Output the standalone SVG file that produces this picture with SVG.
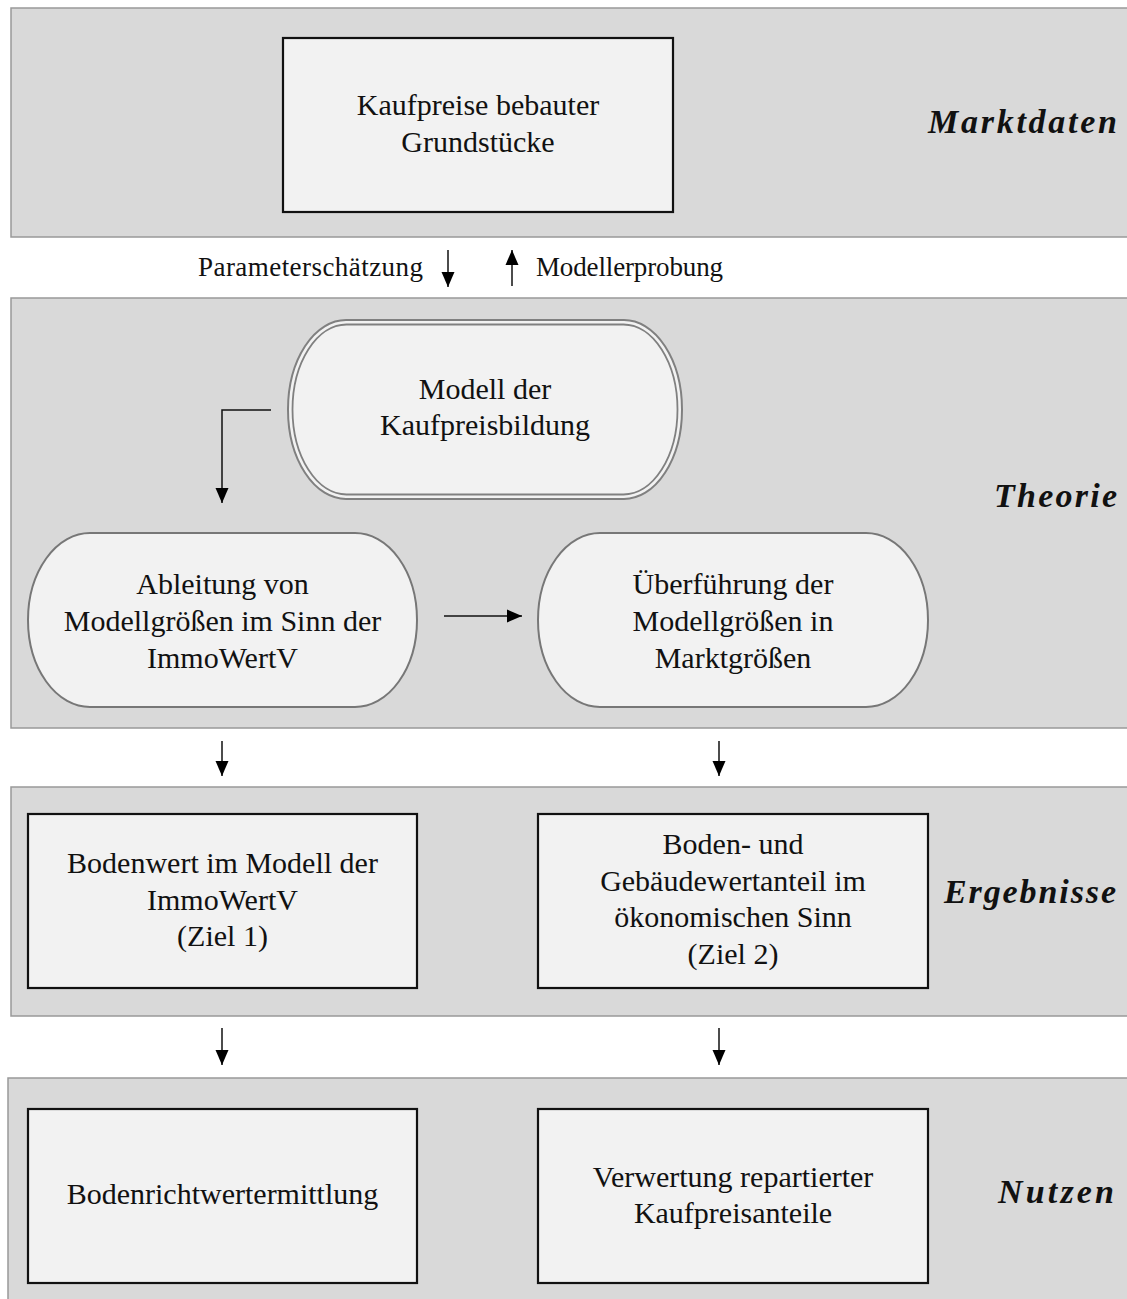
<svg xmlns="http://www.w3.org/2000/svg" width="1127" height="1299" viewBox="0 0 1127 1299">
<style>
.band{fill:#d9d9d9;stroke:#999;stroke-width:1.5}
.box{fill:#f2f2f2;stroke:#111;stroke-width:2.2}
.node{fill:#f2f2f2;stroke:#777;stroke-width:2}
.t{font-family:"Liberation Serif","Times New Roman",serif;font-size:30px;fill:#111;text-anchor:middle}
.e{font-family:"Liberation Serif","Times New Roman",serif;font-size:27px;fill:#111}
.lab{font-family:"Liberation Serif","Times New Roman",serif;font-size:34px;font-weight:bold;font-style:italic;fill:#111;text-anchor:end}
.c{fill:none;stroke:#111;stroke-width:1.5}
</style>
<defs>
<marker id="ah" markerUnits="userSpaceOnUse" markerWidth="15" markerHeight="14" refX="15" refY="7" orient="auto" overflow="visible">
<path d="M0,0.5 L15,7 L0,13.5 z" fill="#000"/>
</marker>
</defs>
<g id="bands">
<rect class="band" x="11" y="8" width="1130" height="229"/>
<rect class="band" x="11" y="298" width="1130" height="430"/>
<rect class="band" x="11" y="787" width="1130" height="229"/>
<rect class="band" x="8" y="1078" width="1130" height="240"/>
</g>
<g id="labels">
<text class="lab" x="1117" y="133" textLength="189">Marktdaten</text>
<text class="lab" x="1117" y="507" textLength="123">Theorie</text>
<text class="lab" x="1116" y="903" textLength="172">Ergebnisse</text>
<text class="lab" x="1114" y="1203" textLength="116">Nutzen</text>
</g>
<g id="n_kaufpreise">
<rect class="box" x="283" y="38" width="390" height="174"/>
<text class="t" x="478" y="115">Kaufpreise bebauter</text>
<text class="t" x="478" y="152">Grundstücke</text>
</g>
<g id="n_modell">
<rect x="288" y="320" width="394" height="179" rx="58" ry="89.5" fill="#f2f2f2" stroke="#808080" stroke-width="2"/>
<rect x="292.5" y="324.5" width="385" height="170" rx="54" ry="85" fill="none" stroke="#808080" stroke-width="1.8"/>
<text class="t" x="485" y="399">Modell der</text>
<text class="t" x="485" y="435">Kaufpreisbildung</text>
</g>
<g id="n_ableitung">
<rect class="node" x="28" y="533" width="389" height="174" rx="62" ry="87"/>
<text class="t" x="222.5" y="594">Ableitung von</text>
<text class="t" x="222.5" y="631">Modellgrößen im Sinn der</text>
<text class="t" x="222.5" y="668">ImmoWertV</text>
</g>
<g id="n_ueberfuehrung">
<rect class="node" x="538" y="533" width="390" height="174" rx="62" ry="87"/>
<text class="t" x="733" y="594">Überführung der</text>
<text class="t" x="733" y="631">Modellgrößen in</text>
<text class="t" x="733" y="668">Marktgrößen</text>
</g>
<g id="n_bodenwert">
<rect class="box" x="28" y="814" width="389" height="174"/>
<text class="t" x="222.5" y="873">Bodenwert im Modell der</text>
<text class="t" x="222.5" y="910">ImmoWertV</text>
<text class="t" x="222.5" y="946">(Ziel 1)</text>
</g>
<g id="n_anteil">
<rect class="box" x="538" y="814" width="390" height="174"/>
<text class="t" x="733" y="854">Boden- und</text>
<text class="t" x="733" y="891">Gebäudewertanteil im</text>
<text class="t" x="733" y="927">ökonomischen Sinn</text>
<text class="t" x="733" y="964">(Ziel 2)</text>
</g>
<g id="n_bodenricht">
<rect class="box" x="28" y="1109" width="389" height="174"/>
<text class="t" x="222.5" y="1204">Bodenrichtwertermittlung</text>
</g>
<g id="n_verwertung">
<rect class="box" x="538" y="1109" width="390" height="174"/>
<text class="t" x="733" y="1187">Verwertung repartierter</text>
<text class="t" x="733" y="1223">Kaufpreisanteile</text>
</g>
<g id="connectors">
<line class="c" x1="448" y1="250" x2="448" y2="287" marker-end="url(#ah)"/>
<line class="c" x1="512" y1="286" x2="512" y2="250" marker-end="url(#ah)"/>
<text class="e" x="198" y="276" textLength="225">Parameterschätzung</text>
<text class="e" x="536" y="276" textLength="187">Modellerprobung</text>
<polyline class="c" points="271,410 222,410 222,503" marker-end="url(#ah)"/>
<line class="c" x1="444" y1="616" x2="522" y2="616" marker-end="url(#ah)"/>
<line class="c" x1="222" y1="741" x2="222" y2="776" marker-end="url(#ah)"/>
<line class="c" x1="719" y1="741" x2="719" y2="776" marker-end="url(#ah)"/>
<line class="c" x1="222" y1="1028" x2="222" y2="1065" marker-end="url(#ah)"/>
<line class="c" x1="719" y1="1028" x2="719" y2="1065" marker-end="url(#ah)"/>
</g>
</svg>
